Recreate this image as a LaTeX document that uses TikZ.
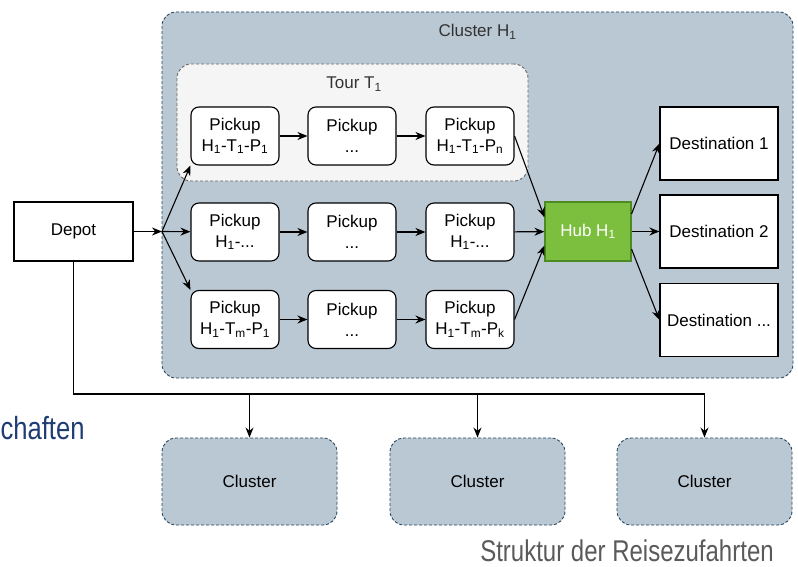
\documentclass[tikz,border=0pt]{standalone}
\usepackage{fontspec}
\setmainfont{Liberation Sans}
\newfontfamily\narrowfont[FakeStretch=0.8]{Liberation Sans}
\usetikzlibrary{arrows.meta}

\definecolor{clusterfill}{HTML}{BAC8D3}
\definecolor{clusterline}{HTML}{23445D}
\definecolor{tourfill}{HTML}{F5F5F5}
\definecolor{tourline}{HTML}{666666}
\definecolor{hubfill}{HTML}{7CBF3F}
\definecolor{hubline}{HTML}{4E8A22}
\definecolor{titleblue}{HTML}{1F3C73}
\definecolor{titlegray}{HTML}{5A5A5A}

\newcommand{\ix}[1]{\textsubscript{#1}}

\begin{document}
\begin{tikzpicture}[x=1pt,y=-1pt,line width=1.1pt,>={Stealth[length=10pt,width=8pt]},
  font=\fontsize{17}{21}\selectfont,
  cluster box/.style={draw=clusterline,fill=clusterfill,dash pattern=on 3pt off 2pt,line width=0.9pt,rounded corners=14pt},
  tour box/.style={draw=tourline,fill=tourfill,dash pattern=on 3pt off 2pt,line width=0.9pt,rounded corners=14pt},
  pickup node/.style={draw,fill=white,rounded corners=8pt,minimum width=88pt,minimum height=58pt,align=center,inner sep=1pt},
  dest node/.style={draw,fill=white,minimum width=118pt,minimum height=73pt,inner sep=1pt},
  depot node/.style={draw,fill=white,minimum width=119pt,minimum height=59pt},
  hub node/.style={draw=hubline,fill=hubfill,text=white,minimum width=86pt,minimum height=59pt}]

                    \useasboundingbox (0,0) rectangle (798,567);

                    \node[cluster box,minimum width=631pt,minimum height=366pt] at (477.5, 195) (cl) {};
                    \node[text=black!80] at (477.5, 32) (cltitle) {Cluster H\ix{1}};
                    \node[tour box,minimum width=351pt,minimum height=117pt] at (352.5, 122.5) (tour) {};
                    \node[text=black!80] at (354, 84) (tourtitle) {Tour T\ix{1}};

                    \node[depot node] at (73.5, 231.5) (depot) {Depot};
                    \coordinate (split) at (162, 231.5);

                    \node[pickup node] at (235, 136) (p11) {Pickup\\H\ix{1}-T\ix{1}-P\ix{1}};
                    \node[pickup node] at (352, 136) (p12) {Pickup\\...};
                    \node[pickup node] at (470, 136) (p13) {Pickup\\H\ix{1}-T\ix{1}-P\ix{n}};
                    \node[pickup node] at (235, 232) (p21) {Pickup\\H\ix{1}-...};
                    \node[pickup node] at (352, 232) (p22) {Pickup\\...};
                    \node[pickup node] at (470, 232) (p23) {Pickup\\H\ix{1}-...};
                    \node[pickup node] at (235, 319.5) (p31) {Pickup\\H\ix{1}-T\ix{m}-P\ix{1}};
                    \node[pickup node] at (352, 319.5) (p32) {Pickup\\...};
                    \node[pickup node] at (470, 319.5) (p33) {Pickup\\H\ix{1}-T\ix{m}-P\ix{k}};

                    \node[hub node] at (588, 231.5) (hub) {Hub H\ix{1}};

                    \node[dest node] at (719, 143.5) (d1) {Destination 1};
                    \node[dest node] at (719, 231.5) (d2) {Destination 2};
                    \node[dest node] at (719, 320) (d3) {Destination ...};

                    \node[cluster box,minimum width=175pt,minimum height=87pt] at (249.5, 481.5) (c1) {Cluster};
                    \node[cluster box,minimum width=175pt,minimum height=87pt] at (477.5, 481.5) (c2) {Cluster};
                    \node[cluster box,minimum width=175pt,minimum height=87pt] at (704.5, 481.5) (c3) {Cluster};
                    \coordinate (b1) at (249.5, 394);
                    \coordinate (b2) at (477.5, 394);
                    \coordinate (b3) at (704.5, 394);

                    \path[->] (depot) edge (split);
                    \path[->] (split) edge (p11.south west);
                    \path[->] (split) edge (p21);
                    \path[->] (split) edge (p31.north west);

                    \path[->] (p11) edge (p12);
                    \path[->] (p12) edge (p13);
                    \path[->] (p21) edge (p22);
                    \path[->] (p22) edge (p23);
                    \path[->] (p31) edge (p32);
                    \path[->] (p32) edge (p33);

                    \path[->] (p13.east) edge (hub.162);
                    \path[->] (p23) edge (hub);
                    \path[->] (p33.east) edge (hub.198);

                    \path[->] (hub.22) edge (d1.west);
                    \path[->] (hub) edge (d2);
                    \path[->] (hub.-22) edge (d3.west);

                    \draw (depot) |- (b3);
                    \path[->] (b1) edge (c1);
                    \path[->] (b2) edge (c2);
                    \path[->] (b3) edge (c3);

                    \node[anchor=west,inner sep=0pt,text=titleblue,font=\narrowfont\fontsize{32}{36}\selectfont] at (0, 428) (side) {chaften};
                    \node[text=titlegray,inner sep=0pt,font=\narrowfont\fontsize{30}{34}\selectfont] at (627, 551) (caption) {Struktur der Reisezufahrten};
                \end{tikzpicture}
\end{document}
